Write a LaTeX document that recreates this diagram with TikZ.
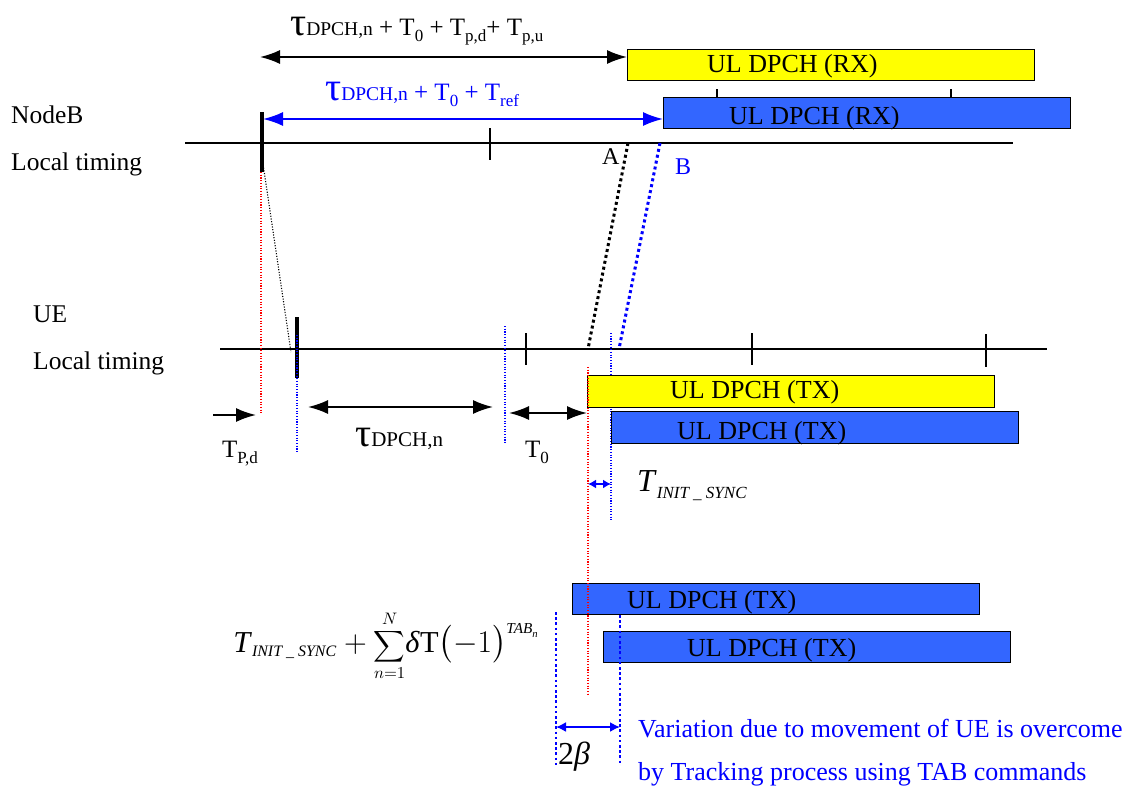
\documentclass[tikz,border=0pt]{standalone}
\usepackage{exscale}
\usepackage{fontspec}
\setmainfont{Liberation Serif}
\usetikzlibrary{arrows.meta, positioning, calc}
\definecolor{cyellow}{RGB}{255,255,0}
\definecolor{cblue}{RGB}{51,102,255}
\definecolor{cdblue}{RGB}{0,0,255}
\definecolor{cred}{RGB}{255,0,0}
\newcommand{\fs}[1]{\fontsize{#1}{#1}\selectfont}
\newcommand{\tsub}[1]{\raisebox{-6pt}{\fs{17}#1}}
\newcommand{\tauchar}{{\fs{40}τ}}

\begin{document}
\begin{tikzpicture}[
    x=1pt, y=-1pt,
    ulbox/.style={draw=black, line width=1.3pt, fill=#1, minimum width=407pt, minimum height=31pt, anchor=north west, inner sep=0pt},
    ulbox/.default=cblue,
    boxtext/.style={font=\fs{26}, inner sep=0pt, anchor=west},
    tlabel/.style={font=\fs{25.5}, inner sep=0pt, anchor=base west},
    formula/.style={font=\fs{25}, inner sep=0pt, anchor=base west},
    timeline/.style={line width=1.6pt},
    bigtick/.style={line width=3.5pt},
    smalltick/.style={line width=1.3pt},
    arrow/.style={{Latex[length=20pt,width=14pt]}-{Latex[length=20pt,width=14pt]}, line width=1.8pt},
    rarrow/.style={-{Latex[length=20pt,width=14pt]}, line width=1.8pt},
    sarrow/.style={{Latex[length=8pt,width=9pt]}-{Latex[length=8pt,width=9pt]}, line width=1.6pt, cdblue},
    fineline/.style={line width=1.1pt, dash pattern=on 1.1pt off 1.6pt},
    pathline/.style={line width=3pt, dash pattern=on 3pt off 3pt},
    edgeline/.style={line width=2.6pt, dash pattern=on 2.6pt off 2.6pt, cdblue}
]
\useasboundingbox (0,0) rectangle (1133,787);

%% NodeB
\node[tlabel] (nbName) at (11,123) {NodeB};
\node[tlabel] (nbTiming) at (11,170) {Local timing};
\coordinate (nbL) at (185,143);
\coordinate (nbR) at (1013,143);
\draw[timeline] (nbL) -- (nbR);
\coordinate (nbT) at (262,112);
\coordinate (nbB) at (262,172);
\draw[bigtick] (nbT) -- (nbB);
\draw[smalltick] (490,128) -- (490,160);
\draw[smalltick] (717,89) -- (717,98);
\draw[smalltick] (951,89) -- (951,98);

\node[ulbox=cyellow] (rxY) at (627,49) {};
\node[boxtext, right=80pt of rxY.west, yshift=-1pt] (rxYt) {UL DPCH (RX)};
\node[ulbox=cblue] (rxB) at (663,97) {};
\node[boxtext, right=66pt of rxB.west, yshift=-5pt] (rxBt) {UL DPCH (RX)};

\node[formula] (tauRX) at (290,35) {\tauchar{\fs{19.5}DPCH,n} + T\tsub{0} + T\tsub{p,d}+ T\tsub{p,u}};
\node[formula, text=cdblue] (tauRef) at (325,100) {\tauchar{\fs{19.5}DPCH,n} + T\tsub{0} + T\tsub{ref}};
\coordinate (topL) at (260,57);
\draw[arrow] (topL) -- (rxY.west |- topL);
\coordinate (blueL) at (263,119);
\draw[arrow, cdblue] (blueL) -- (rxB.west |- blueL);

%% paths NodeB -> UE
\coordinate (A1) at (628,143);
\coordinate (A2) at (588,349);
\coordinate (B1) at (660,143);
\coordinate (B2) at (619,349);
\draw[pathline] (A1) -- (A2);
\draw[pathline, cdblue] (B1) -- (B2);
\node[font=\fs{24}, inner sep=0pt, anchor=base west] (ptA) at (602,164) {A};
\node[font=\fs{24}, inner sep=0pt, anchor=base west, text=cdblue] (ptB) at (675,174) {B};
\coordinate (ueHit) at (291,352);
\draw[fineline] (nbT |- 0,157) -- (ueHit);

%% UE
\node[tlabel] (ueName) at (33,322) {UE};
\node[tlabel] (ueTiming) at (33,369) {Local timing};
\coordinate (ueL) at (220,349);
\coordinate (ueR) at (1047,349);
\draw[timeline] (ueL) -- (ueR);
\draw[bigtick] (297,317) -- (297,378);
\draw[smalltick] (526,333) -- (526,365);
\draw[smalltick] (752,333) -- (752,365);
\draw[smalltick] (986,334) -- (986,367);

\draw[fineline, cred] (261,172) -- (261,413);
\draw[fineline, cdblue] (297,335) -- (297,453);
\draw[fineline, cdblue] (505,326) -- (505,443);
\draw[fineline, cdblue] (611,333) -- (611,520);

\node[ulbox=cyellow, minimum height=32pt] (txY) at (587,375) {};
\node[boxtext, right=83pt of txY.west, yshift=-1pt] (txYt) {UL DPCH (TX)};
\node[ulbox=cblue, minimum height=32pt] (txB) at (611,411) {};
\node[boxtext, right=66pt of txB.west, yshift=-6pt] (txBt) {UL DPCH (TX)};
\draw[fineline, cred] (588,367) -- (588,695);

\draw[rarrow] (213,415) -- (256,415);
\draw[arrow] (308,407) -- (493,407);
\draw[arrow] (509,413) -- (txY.west |- 0,413);
\node[formula] (tpd) at (222,457) {T\tsub{P,d}};
\node[formula] (tauDL) at (355,446) {\tauchar{\fs{21}DPCH,n}};
\node[formula] (tzero) at (525,457) {T\tsub{0}};

\draw[sarrow] (588,484) -- (611,484);
\node[formula, font=\fs{32}] (tinit) at (637,491) {\textit{T}\raisebox{-7pt}{\fs{17}\textit{INIT \_ SYNC}}};

%% tracking
\node[ulbox=cblue] (trB1) at (572,583) {};
\node[boxtext, right=55pt of trB1.west, yshift=-3pt] (trB1t) {UL DPCH (TX)};
\node[ulbox=cblue] (trB2) at (603,631) {};
\node[boxtext, right=84pt of trB2.west, yshift=-3pt] (trB2t) {UL DPCH (TX)};
\draw[fineline, cred] (588,583) -- (588,695);

\node[formula, font=\fs{20}, scale=1.52] (fsum) at (233,652)
  {$\mbox{\textit{T}}_{\mbox{\fs{10.5}\textit{INIT \_ SYNC}}}+\mbox{\fs{15.5}$\displaystyle\sum_{n=1}^{N}$}\mbox{\textit{δ}T}\bigl(-1\bigr)^{\mbox{\fs{10}\textit{TAB}\raisebox{-2.5pt}{\fs{7}\textit{n}}}}$};

\coordinate (lo1) at (556,612);
\coordinate (lo2) at (556,765);
\coordinate (hi1) at (620,615);
\coordinate (hi2) at (620,765);
\draw[edgeline] (lo1) -- (lo2);
\draw[edgeline] (hi1) -- (hi2);
\draw[sarrow, {Latex[length=10pt,width=10pt]}-{Latex[length=10pt,width=10pt]}] (lo1 |- 0,727) -- (hi1 |- 0,727);
\node[formula, font=\fs{32}] (beta) at (558,764) {2\textit{β}};
\node[tlabel, font=\fs{26}, text=cdblue] (note1) at (638,737) {Variation due to movement of UE is overcome};
\node[tlabel, font=\fs{26}, text=cdblue] (note2) at (638,780) {by Tracking process using TAB commands};

\end{tikzpicture}
\end{document}
